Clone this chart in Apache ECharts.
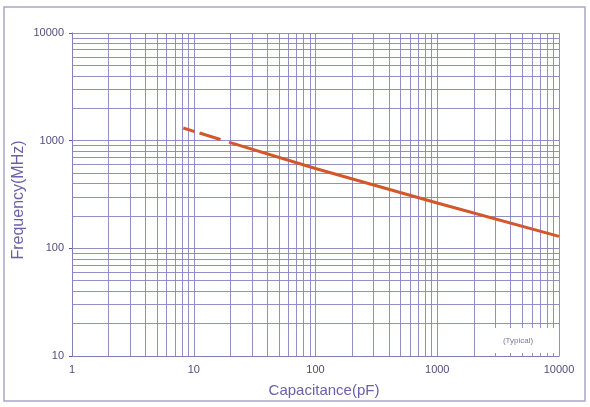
<!DOCTYPE html>
<html><head><meta charset="utf-8">
<script src="https://cdn.jsdelivr.net/npm/echarts@6/dist/echarts.min.js"></script>
<style>html,body{margin:0;padding:0;background:#fff}#c{width:590px;height:407px}</style>
</head><body><div id="c"></div>
<script>
// Data
const xDecades = [1, 10, 100, 1000, 10000];
const yDecades = [10, 100, 1000, 10000];
const minorSteps = [2, 3, 4, 5, 6, 7, 8, 9];
const dashedCap = [8.2, 20];
const dashedFreq = [1310, 960];
const solidCap = [20, 100, 1000, 10000];
const solidFreq = [960, 552, 264, 129];
const xTitle = 'Capacitance(pF)';
const yTitle = 'Frequency(MHz)';
const note = '(Typical)';

const gridColor = '#8583bd';
const textColor = '#554b80';
const titleColor = '#6a5fa8';
const lineColor = '#d2572b';

function gridValues(decades) {
  const out = [];
  decades.forEach((d, i) => {
    out.push(d);
    if (i < decades.length - 1) minorSteps.forEach(m => out.push(d * m));
  });
  return out;
}
const xGrid = gridValues(xDecades);
const yGrid = gridValues(yDecades);

const chart = echarts.init(document.getElementById('c'), null, {renderer: 'canvas'});
chart.setOption({
  animation: false,
  backgroundColor: '#ffffff',
  grid: {left: 72, right: 31, top: 33, bottom: 51, show: false, containLabel: false, outerBoundsMode: 'none'},
  xAxis: {
    type: 'log', logBase: 10, min: 1, max: 10000,
    name: xTitle, nameLocation: 'middle', nameGap: 27, nameMoveOverlap: false,
    nameTextStyle: {color: titleColor, fontSize: 15, fontFamily: 'Liberation Sans', padding: [0, 0, 0, 17]},
    axisLine: {show: true, lineStyle: {color: '#5a58a0', width: 1}},
    axisTick: {show: false},
    splitLine: {show: false},
    axisLabel: {color: textColor, fontSize: 11, fontFamily: 'Liberation Sans', margin: 8,
      formatter: v => String(Math.round(v))}
  },
  yAxis: {
    type: 'log', logBase: 10, min: 10, max: 10000,
    name: yTitle, nameLocation: 'middle', nameGap: 45, nameRotate: 90, nameMoveOverlap: false,
    nameTextStyle: {color: titleColor, fontSize: 16, fontFamily: 'Liberation Sans', padding: [0, 11, 0, 0]},
    axisLine: {show: true, lineStyle: {color: '#5a58a0', width: 1}},
    axisTick: {show: true, length: 3, lineStyle: {color: '#5a58a0'}},
    splitLine: {show: false},
    axisLabel: {color: textColor, fontSize: 11, fontFamily: 'Liberation Sans', margin: 8,
      formatter: v => String(Math.round(v))}
  },
  series: [
    {
      type: 'line', data: [], silent: true, z: 1,
      markLine: {
        silent: true, symbol: ['none', 'none'], animation: false,
        label: {show: false},
        lineStyle: {color: gridColor, width: 1, type: 'solid', opacity: 0.9},
        emphasis: {disabled: true},
        data: xGrid.map(v => ({xAxis: v})).concat(yGrid.map(v => ({yAxis: v})))
      }
    },
    {
      type: 'line', data: dashedCap.map((c, i) => [c, dashedFreq[i]]),
      showSymbol: false, z: 5,
      lineStyle: {color: lineColor, width: 3, type: [12, 5, 22, 9]}
    },
    {
      type: 'line', data: solidCap.map((c, i) => [c, solidFreq[i]]),
      showSymbol: false, z: 5,
      lineStyle: {color: lineColor, width: 3, type: 'solid'}
    }
  ],
  graphic: [
    {type: 'rect', shape: {x: 4, y: 7, width: 581, height: 394}, style: {fill: 'none', stroke: '#a9a7c8', lineWidth: 1.5}, z: 0, silent: true},
    {type: 'rect', shape: {x: 489, y: 328, width: 68, height: 25}, style: {fill: '#ffffff'}, z: 10, silent: true},
    {type: 'text', x: 518, y: 341, style: {text: note, fill: '#7a78a0', fontSize: 8, fontFamily: 'Liberation Sans', textAlign: 'center', textVerticalAlign: 'middle'}, z: 11, silent: true}
  ]
});
</script></body></html>
